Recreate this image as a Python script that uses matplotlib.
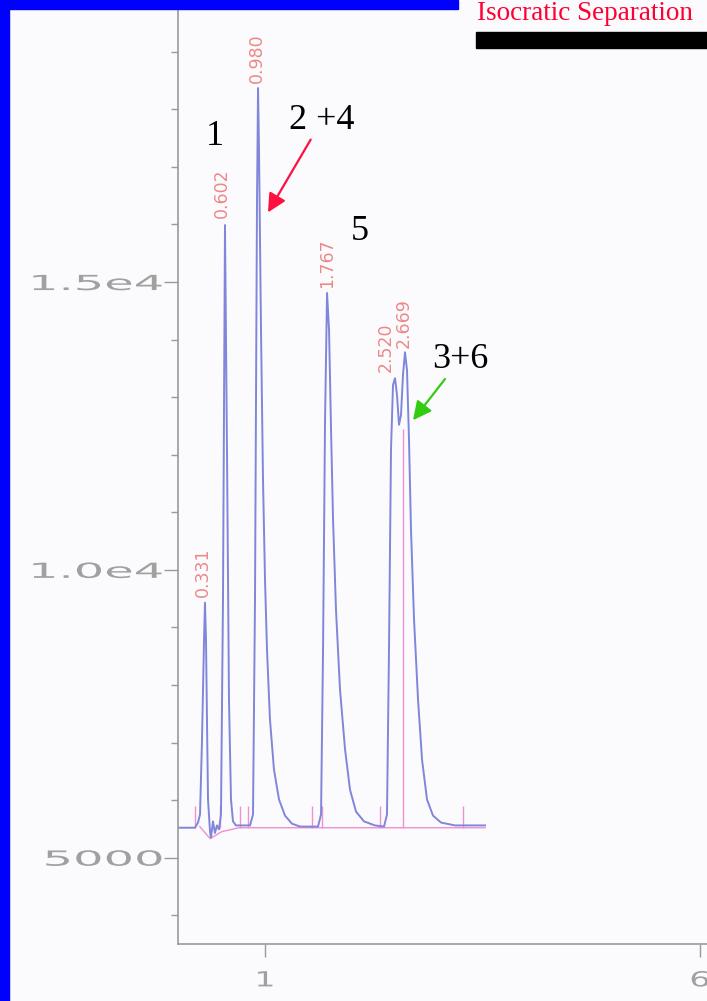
import matplotlib
matplotlib.use('Agg')
import matplotlib.pyplot as plt
from matplotlib import patheffects
from matplotlib.transforms import Affine2D
from matplotlib.patches import Rectangle
from matplotlib.ticker import MultipleLocator

# detector trace (time, signal)
trace_t = [0.000, 0.195, 0.230, 0.253, 0.276, 0.299, 0.310, 0.322, 0.333, 0.345,
           0.368, 0.379, 0.402, 0.425, 0.448, 0.471, 0.494, 0.517, 0.540, 0.563,
           0.586, 0.609, 0.632, 0.667, 0.736, 0.828, 0.862, 0.885, 0.908, 0.920,
           0.931, 0.954, 0.977, 1.000, 1.023, 1.057, 1.103, 1.161, 1.230, 1.310,
           1.402, 1.609, 1.644, 1.667, 1.690, 1.713, 1.736, 1.759, 1.782, 1.816,
           1.862, 1.920, 1.977, 2.046, 2.138, 2.264, 2.368, 2.402, 2.425, 2.448,
           2.471, 2.494, 2.517, 2.540, 2.563, 2.586, 2.609, 2.632, 2.655, 2.678,
           2.713, 2.759, 2.805, 2.862, 2.931, 3.023, 3.184, 3.529]
trace_y = [5520, 5520, 5610, 5750, 7050, 8780, 9430, 8780, 7400, 6010,
           5450, 5350, 5630, 5430, 5560, 5490, 5750, 9480, 15990, 12080,
           7740, 6010, 5630, 5560, 5560, 5560, 5750, 9480, 16420, 18370,
           17290, 14170, 11560, 9830, 8610, 7400, 6530, 6010, 5730, 5590,
           5540, 5540, 5750, 8610, 12600, 14810, 14170, 12430, 10870, 9300,
           7920, 6880, 6180, 5800, 5630, 5560, 5540, 5750, 8610, 12080,
           13210, 13330, 13040, 12520, 12690, 13390, 13780, 13470, 12260, 10690,
           9130, 7740, 6700, 6010, 5730, 5610, 5560, 5560]

# integration baseline and peak start/end markers
base_t = [0.25, 0.37, 0.50, 0.70, 3.53]
base_y = [5540, 5330, 5450, 5520, 5520]
marker_t = [0.195, 0.483, 0.713, 0.805, 1.540, 1.655, 2.322, 3.276]
drop_t = 2.586
drop_top = 12450

# retention time labels
peak_labels = ['0.331', '0.602', '0.980', '1.767', '2.520', '2.669']
label_t = [0.287, 0.506, 0.908, 1.713, 2.391, 2.598]
label_y = [9480, 16080, 18420, 14860, 13390, 13820]

# compound numbers
comp_text = ['1', '5']
comp_t = [0.425, 2.092]
comp_y = [17520, 15870]
arrow_text = ['2 +4', '3+6']
arrow_from = [(1.655, 17810), (3.241, 13650)]
arrow_to = [(1.034, 16210), (2.701, 12600)]
arrow_col = ['#ff1040', '#33cc11']

ytick_vals = [5000, 10000, 15000]
ytick_labels = ['5000', '1.0e4', '1.5e4']
xtick_vals = [1, 6]
xtick_labels = ['1', '6']


class Stretch(patheffects.AbstractPathEffect):
    # widen glyphs horizontally, like the plotter font of the scan
    def __init__(self, sx, anchor='right'):
        super().__init__()
        self.sx = sx
        self.anchor = anchor

    def draw_path(self, renderer, gc, tpath, affine, rgbFace=None):
        ext = tpath.get_extents()
        xa = ext.x1 if self.anchor == 'right' else (ext.x0 + ext.x1) / 2
        x0, y0 = affine.transform((xa, 0))
        new = affine + Affine2D().translate(-x0, -y0).scale(self.sx, 1).translate(x0, y0)
        renderer.draw_path(gc, tpath, new, rgbFace)


fig = plt.figure(figsize=(7.07, 10.01), dpi=100, facecolor='#fbfbfd')
ax = fig.add_axes([178/707, 57/1001, 529/707, 944/1001])
ax.set_facecolor('none')
ax.set_xlim(0, 6.08)
ax.set_ylim(3500, 19900)

ax.plot(base_t, base_y, color='#f090d0', lw=1.0)
ax.vlines(marker_t, 5520, 5900, color='#f090d0', lw=1.0)
ax.vlines(drop_t, 5520, drop_top, color='#f090d0', lw=1.0)
ax.plot(trace_t, trace_y, color='#8086da', lw=1.4)

for lab, t, y in zip(peak_labels, label_t, label_y):
    ax.text(t, y + 40, lab, rotation=90, ha='center', va='bottom',
            fontsize=12.5, family='DejaVu Sans', color='#ec8888')

for s, t, y in zip(comp_text, comp_t, comp_y):
    ax.text(t, y, s, ha='center', va='center', fontsize=26,
            family='Liberation Serif', color='black')

for s, p0, p1, c in zip(arrow_text, arrow_from, arrow_to, arrow_col):
    ax.annotate(s, xy=p1, xytext=p0, ha='center', va='center', fontsize=26,
                family='Liberation Serif', color='black',
                arrowprops=dict(arrowstyle='-|>', color=c, lw=1.6,
                                mutation_scale=28, shrinkA=0, shrinkB=0))

for side in ['top', 'right']:
    ax.spines[side].set_visible(False)
for side in ['left', 'bottom']:
    ax.spines[side].set_color('#9a9a9a')
    ax.spines[side].set_linewidth(1.2)

ax.set_yticks(ytick_vals, labels=ytick_labels)
ax.yaxis.set_minor_locator(MultipleLocator(1000))
ax.set_xticks(xtick_vals, labels=xtick_labels)
ax.tick_params(axis='y', which='major', length=10, width=1, color='#9a9a9a',
               labelcolor='#a0a0a0', labelsize=15, pad=1)
ax.tick_params(axis='y', which='minor', length=5, width=1, color='#9a9a9a')
ax.tick_params(axis='x', which='major', length=9, width=1, color='#9a9a9a',
               labelcolor='#a0a0a0', labelsize=15, pad=10)
for lab in ax.get_yticklabels():
    lab.set_path_effects([Stretch(2.3, 'right')])
for lab in ax.get_xticklabels():
    lab.set_path_effects([Stretch(1.6, 'center')])

# slide frame
fig.add_artist(Rectangle((0, 0), 9/707, 1, transform=fig.transFigure,
                         color='#0000ff', zorder=5))
fig.add_artist(Rectangle((0, 1 - 9/1001), 458/707, 9/1001, transform=fig.transFigure,
                         color='#0000ff', zorder=5))
fig.add_artist(Rectangle((476/707, 1 - 48/1001), 231/707, 16/1001,
                         transform=fig.transFigure, color='black', zorder=5))
fig.text(477/707, 1 - 20/1001, 'Isocratic Separation', color='#ff0033',
         fontsize=19.5, family='Liberation Serif', va='baseline')

fig.savefig('out.png', dpi=100, facecolor=fig.get_facecolor())
